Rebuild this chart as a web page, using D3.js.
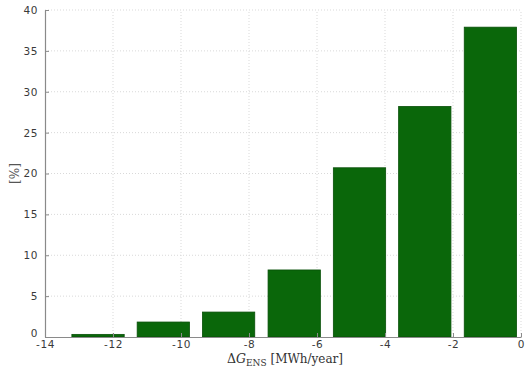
<!DOCTYPE html>
<html>
<head>
<meta charset="utf-8">
<script src="https://cdn.jsdelivr.net/npm/d3@7"></script>
<style>
  html, body { margin: 0; padding: 0; background: #fff; }
  svg { display: block; }
</style>
</head>
<body>
<svg id="chart" width="526" height="371"></svg>
<script>
// Histogram of the change in energy not supplied
const binCenters = [-12.44, -10.52, -8.60, -6.67, -4.75, -2.83, -0.90];
const shares     = [0.32, 1.83, 3.05, 8.2, 20.7, 28.2, 37.9];
const xTicks = [-14, -12, -10, -8, -6, -4, -2, 0];
const yTicks = [0, 5, 10, 15, 20, 25, 30, 35, 40];
const binWidth = 1.923;

const svg = d3.select("#chart");
const margin = { left: 45, right: 5, top: 10, bottom: 34 };
const W = 526, H = 371;

const x = d3.scaleLinear().domain([-14, 0]).range([margin.left, W - margin.right]);
const y = d3.scaleLinear().domain([0, 40]).range([H - margin.bottom, margin.top]);

// dotted grid
const grid = svg.append("g");
grid.selectAll("line.v").data(xTicks.slice(1)).join("line")
  .attr("x1", d => x(d)).attr("x2", d => x(d))
  .attr("y1", y(0)).attr("y2", y(40))
  .attr("stroke", "#d9d9d9").attr("stroke-width", 1)
  .attr("stroke-dasharray", "1,2");
grid.selectAll("line.h").data(yTicks.slice(1)).join("line")
  .attr("x1", x(-14)).attr("x2", x(0))
  .attr("y1", d => y(d)).attr("y2", d => y(d))
  .attr("stroke", "#d9d9d9").attr("stroke-width", 1)
  .attr("stroke-dasharray", "1,2");

// bars
svg.append("g").selectAll("rect").data(binCenters).join("rect")
  .attr("x", (d) => x(d - binWidth * 0.4))
  .attr("width", (d) => x(d + binWidth * 0.4) - x(d - binWidth * 0.4))
  .attr("y", (d, i) => y(shares[i]))
  .attr("height", (d, i) => y(0) - y(shares[i]))
  .attr("fill", "#0a670a")
  .attr("stroke", "#084f08")
  .attr("stroke-width", 0.8);

// axes with inward ticks
const xAxis = d3.axisBottom(x).tickValues(xTicks).tickSizeInner(-4).tickSizeOuter(0)
  .tickFormat(d => String(d).replace("−", "-"));
const gx = svg.append("g").attr("transform", `translate(0,${y(0)})`).call(xAxis);
const yAxis = d3.axisLeft(y).tickValues(yTicks).tickSizeInner(-4).tickSizeOuter(0);
const gy = svg.append("g").attr("transform", `translate(${x(-14)},0)`).call(yAxis);

[gx, gy].forEach(g => {
  g.select(".domain").attr("stroke", "#8a8a8a").attr("stroke-width", 1.2);
  g.selectAll(".tick line").attr("stroke", "#8a8a8a");
  g.selectAll(".tick text")
    .attr("font-family", "DejaVu Sans, sans-serif")
    .attr("font-size", 10.5)
    .attr("fill", "#3a3a3a")
    .attr("letter-spacing", "0.6px");
});
gx.selectAll(".tick text").attr("dy", "0.8em").attr("y", 3);
gy.selectAll(".tick text").attr("x", -7);
gy.selectAll(".tick").filter(d => d === 0).select("text").attr("dy", "-0.05em");

// axis titles
const xt = svg.append("text")
  .attr("x", 285).attr("y", 362.5)
  .attr("text-anchor", "middle")
  .attr("font-family", "DejaVu Serif, Liberation Serif, serif")
  .attr("font-size", 12.5)
  .attr("fill", "#333");
xt.append("tspan").text("Δ");
xt.append("tspan").text("G").attr("font-style", "italic");
xt.append("tspan").text("ENS").attr("font-size", 9).attr("dy", 3);
xt.append("tspan").text(" [MWh/year]").attr("dy", -3).attr("font-size", 12);

svg.append("text")
  .attr("transform", `translate(19,${y(20)}) rotate(-90)`)
  .attr("text-anchor", "middle")
  .attr("font-family", "DejaVu Serif, Liberation Serif, serif")
  .attr("font-size", 12)
  .attr("fill", "#555")
  .text("[%]");
</script>
</body>
</html>
